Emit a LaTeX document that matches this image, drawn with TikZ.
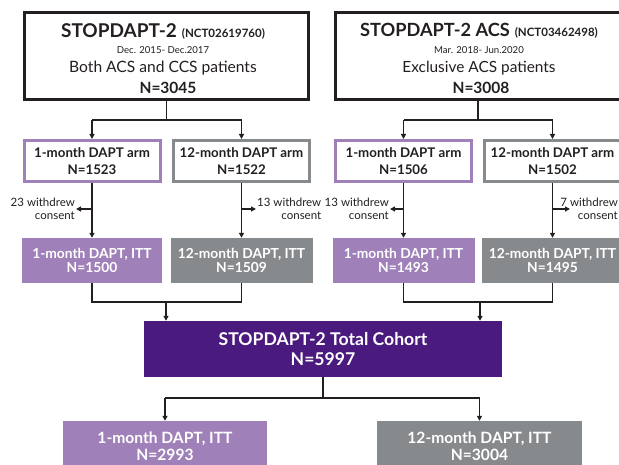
\documentclass[tikz,border=0pt]{standalone}
\usepackage{fontspec}
\setmainfont{Lato}
\usetikzlibrary{arrows.meta}
\definecolor{lpurple}{HTML}{A080B8}
\definecolor{mgray}{HTML}{878A8D}
\definecolor{dpurple}{HTML}{4A1A7E}
\definecolor{ink}{HTML}{231F20}
\begin{document}
\begin{tikzpicture}[x=1pt,y=-1pt,
  topbox/.style={draw=ink,line width=2.6pt,fill=white,minimum height=87.5pt,inner sep=0pt},
  tline/.style={inner sep=0pt,text=ink},
  armbox/.style={draw=#1,line width=3pt,fill=white,minimum width=136pt,minimum height=41pt,inner sep=0pt,align=center,text=ink,font=\fontsize{13.3}{17}\selectfont\bfseries},
  ittbox/.style={fill=#1,minimum height=45pt,inner sep=0pt,align=center,text=white,font=\fontsize{13.8}{14.5}\selectfont\bfseries},
  wdtext/.style={inner sep=1pt,text=ink,font=\fontsize{11.5}{12.5}\selectfont},
  conn/.style={draw=ink,line width=1.8pt},
  arr/.style={conn,-{Triangle[length=5pt,width=5pt]}}]
\useasboundingbox (0,0) rectangle (619,465);

% top boxes
\node[topbox,minimum width=284.5pt] (top1) at (166.5,56) {};
\node[topbox,minimum width=285.5pt] (top2) at (478,56) {};
\node[tline] (t1a) at (163,31) {{\fontsize{19}{20}\selectfont\bfseries STOPDAPT-2}\hspace{5pt}{\fontsize{11.5}{14}\selectfont\bfseries (NCT02619760)}};
\node[tline] (t1b) at (163,50) {\fontsize{9.6}{12}\selectfont Dec. 2015- Dec.2017};
\node[tline] (t1c) at (163,68) {\fontsize{15.6}{17}\selectfont Both ACS and CCS patients};
\node[tline] (t1d) at (168,88) {\fontsize{15.5}{20}\selectfont\bfseries N=3045};
\node[tline] (t2a) at (479,31) {{\fontsize{18.2}{20}\selectfont\bfseries STOPDAPT-2 ACS}\hspace{5pt}{\fontsize{11.5}{14}\selectfont\bfseries (NCT03462498)}};
\node[tline] (t2b) at (479,50) {\fontsize{9.6}{12}\selectfont Mar. 2018- Jun.2020};
\node[tline] (t2c) at (479,68) {\fontsize{15.4}{17}\selectfont Exclusive ACS patients};
\node[tline] (t2d) at (481,88) {\fontsize{15.5}{20}\selectfont\bfseries N=3008};

% arm boxes
\node[armbox=lpurple] (arm1L) at (92,161) {1-month DAPT arm\\N=1523};
\node[armbox=mgray] (arm2L) at (241.5,161) {12-month DAPT arm\\N=1522};
\node[armbox=lpurple] (arm1R) at (403.5,161) {1-month DAPT arm\\N=1506};
\node[armbox=mgray] (arm2R) at (552.5,161) {12-month DAPT arm\\N=1502};

% ITT boxes
\node[ittbox=lpurple,minimum width=140pt] (itt1L) at (92,260.5) {1-month DAPT, ITT\\N=1500};
\node[ittbox=mgray,minimum width=142pt] (itt2L) at (241.5,260.5) {12-month DAPT, ITT\\N=1509};
\node[ittbox=lpurple,minimum width=142pt] (itt1R) at (403.5,260.5) {1-month DAPT, ITT\\N=1493};
\node[ittbox=mgray,minimum width=142pt] (itt2R) at (552.5,260.5) {12-month DAPT, ITT\\N=1495};

% withdrawals
\node[wdtext,align=right,anchor=east] (wd1) at (76,209) {23 withdrew\\consent};
\node[wdtext,align=right,anchor=west] (wd2) at (256,209) {13 withdrew\\consent};
\node[wdtext,align=right,anchor=east] (wd3) at (390,209) {13 withdrew\\consent};
\node[wdtext,align=right,anchor=east] (wd4) at (619,209) {7 withdrew\\consent};
\coordinate (wd4tip) at (570,209);

% total and final boxes
\node[fill=dpurple,minimum width=358pt,minimum height=56pt,inner sep=0pt,align=center,text=white,font=\fontsize{17.6}{20}\selectfont\bfseries] (total) at (323,349) {STOPDAPT-2 Total Cohort\\N=5997};
\node[ittbox=lpurple,minimum width=204pt,minimum height=50pt,font=\fontsize{15.6}{17}\selectfont\bfseries] (botL) at (165,446) {1-month DAPT, ITT\\N=2993};
\node[ittbox=mgray,minimum width=205pt,minimum height=50pt,font=\fontsize{15.6}{17}\selectfont\bfseries] (botR) at (479.5,446) {12-month DAPT, ITT\\N=3004};

% helper coordinates
\coordinate (sY) at (0,120);
\coordinate (mY) at (0,302);
\coordinate (tY) at (0,398);
\coordinate (jL) at (166,302);
\coordinate (jR) at (480,302);

% connectors top -> arms
\draw[conn] (top1.south) -- (top1.south |- sY);
\draw[conn] (arm1L.north |- sY) -- (arm2L.north |- sY);
\draw[arr] (arm1L.north |- sY) -- (arm1L.north);
\draw[arr] (arm2L.north |- sY) -- (arm2L.north);
\draw[conn] (top2.south) -- (top2.south |- sY);
\draw[conn] (arm1R.north |- sY) -- (arm2R.north |- sY);
\draw[arr] (arm1R.north |- sY) -- (arm1R.north);
\draw[arr] (arm2R.north |- sY) -- (arm2R.north);

% arms -> ITT
\draw[arr] (arm1L.south) -- (itt1L.north);
\draw[arr] (arm2L.south) -- (itt2L.north);
\draw[arr] (arm1R.south) -- (itt1R.north);
\draw[arr] (arm2R.south) -- (itt2R.north);
\draw[arr] (arm1L.south |- wd1.east) -- (wd1.east);
\draw[arr] (arm2L.south |- wd2.west) -- (wd2.west);
\draw[arr] (arm1R.south |- wd3.east) -- (wd3.east);
\draw[arr] (arm2R.south |- wd4tip) -- (wd4tip);

% ITT -> total
\draw[conn] (itt1L.south) -- (itt1L.south |- mY) -- (itt2L.south |- mY) -- (itt2L.south);
\draw[conn] (itt1R.south) -- (itt1R.south |- mY) -- (itt2R.south |- mY) -- (itt2R.south);
\draw[arr] (jL) -- (jL |- total.north);
\draw[arr] (jR) -- (jR |- total.north);

% total -> final
\draw[conn] (total.south) -- (total.south |- tY);
\draw[conn] (botL.north |- tY) -- (botR.north |- tY);
\draw[arr] (botL.north |- tY) -- (botL.north);
\draw[arr] (botR.north |- tY) -- (botR.north);
\end{tikzpicture}
\end{document}
